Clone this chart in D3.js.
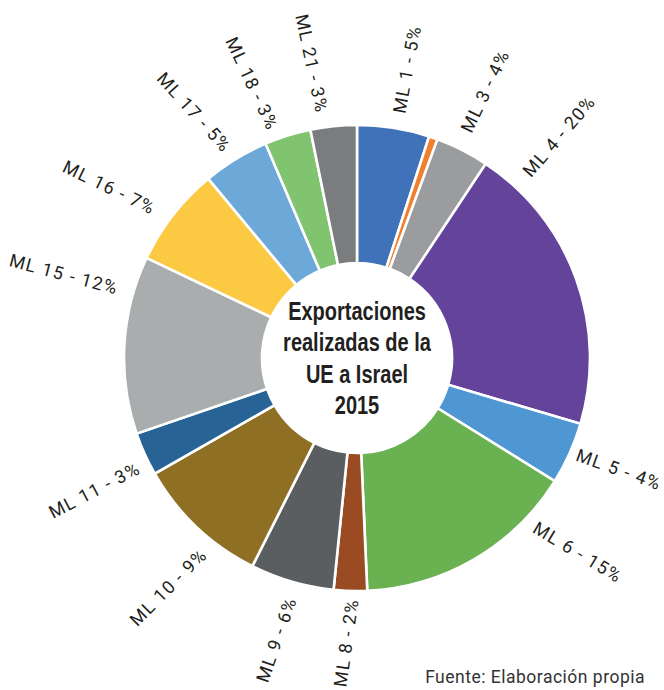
<!DOCTYPE html>
<html>
<head>
<meta charset="utf-8">
<script src="https://cdn.jsdelivr.net/npm/d3@7"></script>
<style>
  html, body { margin: 0; padding: 0; background: #ffffff; }
  svg { display: block; }
</style>
</head>
<body>
<div id="chart"></div>
<script>
// Export shares by product group (percent of total)
const categories = ["ML 1", "ML 2", "ML 3", "ML 4", "ML 5", "ML 6", "ML 8", "ML 9",
                    "ML 10", "ML 11", "ML 15", "ML 16", "ML 17", "ML 18", "ML 21"];
const shares = [5.0, 0.6, 3.7, 20.2, 4.3, 15.4, 2.3, 5.8, 9.3, 3.0, 12.3, 6.9, 4.6, 3.2, 3.2];
const titleLines = ["Exportaciones", "realizadas de la", "UE a Israel", "2015"];
const sourceNote = "Fuente: Elaboración propia";

// Slice colours, one per category
const colors = ["#3f72b8", "#f07f2e", "#9a9c9e", "#63449a", "#4f97d2", "#6ab152", "#9a4b22",
                "#5a5e60", "#8e6f24", "#276495", "#a9adae", "#fcc943", "#6ca8d8", "#80c470", "#7b7c7e"];

// Label placement: polar angle (deg, clockwise from top), distance and text rotation
const labelAngle = [9.8, null, 25.6, 42.3, 113, 131.3, 182.2, 196, 219.5, 243.3, 286, 304.6, 326.5, 339.1, 351.3];
const labelRadius = [293, null, 296, 300, 284.5, 294, 285, 293, 297, 294, 305, 301, 295, 294, 298];
const labelRotate = [-79.6, null, -64.4, -49.3, 19.7, 31, -82, -70.7, -45, -27.6, 14.9, 26, 47.8, 64.8, 78];

const W = 664, H = 690;
const cx = 357, cy = 358;
const outerR = 233, innerR = 95;

const svg = d3.select("#chart").append("svg")
  .attr("width", W).attr("height", H);

const data = categories.map((c, i) => ({ cat: c, share: shares[i], i }));

const pie = d3.pie().sort(null).value(d => d.share);
const arc = d3.arc().innerRadius(innerR).outerRadius(outerR);

const g = svg.append("g").attr("transform", `translate(${cx},${cy})`);

g.selectAll("path.slice")
  .data(pie(data))
  .join("path")
  .attr("class", "slice")
  .attr("d", arc)
  .attr("fill", d => colors[d.data.i])
  .attr("stroke", "#ffffff")
  .attr("stroke-width", 2.6)
  .attr("stroke-linejoin", "miter");

// Radial labels around the ring
const labelled = data.filter(d => labelAngle[d.i] !== null);
g.selectAll("text.lbl")
  .data(labelled)
  .join("text")
  .attr("class", "lbl")
  .attr("transform", d => {
    const a = labelAngle[d.i] * Math.PI / 180;
    const r = labelRadius[d.i];
    const x = r * Math.sin(a), y = -r * Math.cos(a);
    return `translate(${x},${y}) rotate(${labelRotate[d.i]})`;
  })
  .attr("text-anchor", "middle")
  .attr("dominant-baseline", "central")
  .attr("font-family", "Roboto, 'Open Sans', sans-serif")
  .attr("font-weight", 400)
  .attr("font-size", 18)
  .attr("letter-spacing", 1.3)
  .attr("fill", "#231f20")
  .text(d => `${d.cat} - ${Math.round(d.share)}%`);

// Centre title (condensed bold)
const title = g.append("text")
  .attr("text-anchor", "middle")
  .attr("transform", "scale(0.8,1)")
  .attr("font-family", "'Liberation Sans', Arial, sans-serif")
  .attr("font-weight", 700)
  .attr("font-size", 25)
  .attr("fill", "#231f20");
titleLines.forEach((t, k) => {
  title.append("tspan").attr("x", 0).attr("y", -38 + k * 31.3).text(t);
});

// Source note
svg.append("text")
  .attr("x", 645).attr("y", 683)
  .attr("text-anchor", "end")
  .attr("font-family", "Roboto, 'Open Sans', sans-serif")
  .attr("font-weight", 400)
  .attr("font-size", 17.5)
  .attr("letter-spacing", 0.5)
  .attr("fill", "#333333")
  .text(sourceNote);
</script>
</body>
</html>
